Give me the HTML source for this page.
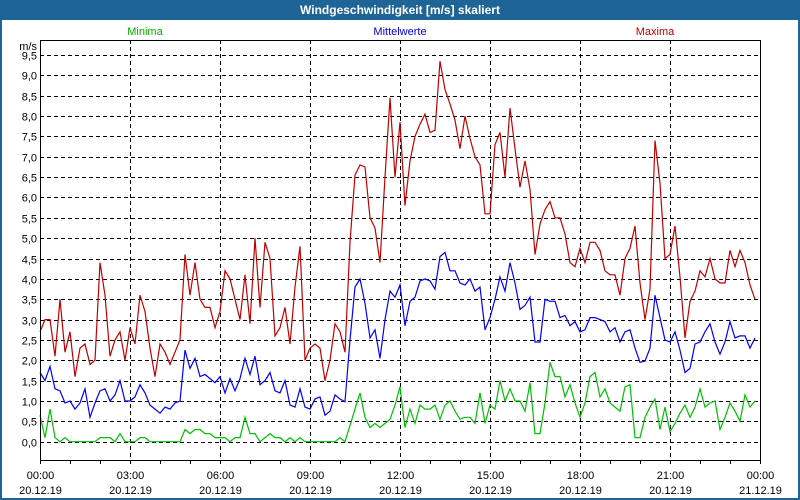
<!DOCTYPE html>
<html><head><meta charset="utf-8"><style>
body{margin:0;background:#fff;}
#wrap{position:relative;width:800px;height:500px;overflow:hidden;}
svg text{font-family:"Liberation Sans","DejaVu Sans",sans-serif;}
</style></head><body>
<div id="wrap">
<svg id="chart" width="800" height="500" xmlns="http://www.w3.org/2000/svg">
<rect x="0" y="0" width="800" height="500" fill="#1e6496"/>
<rect x="2" y="20" width="796" height="478" fill="#fff"/>
<text x="400" y="14" text-anchor="middle" fill="#fff" font-size="12" font-weight="bold">Windgeschwindigkeit [m/s] skaliert</text>
<text x="145" y="35" text-anchor="middle" fill="#00b000" font-size="11">Minima</text>
<text x="400" y="35" text-anchor="middle" fill="#0000e0" font-size="11">Mittelwerte</text>
<text x="655" y="35" text-anchor="middle" fill="#c00000" font-size="11">Maxima</text>
<text x="37" y="50" text-anchor="end" fill="#000" font-size="11">m/s</text>
<g id="grid"></g><g id="series"></g><g id="axes"></g>
</svg></div>
<script>
const yTicks=[0,0.5,1,1.5,2,2.5,3,3.5,4,4.5,5,5.5,6,6.5,7,7.5,8,8.5,9,9.5];
const xTickHours=[0,3,6,9,12,15,18,21,24];
const xTickTimes=["00:00","03:00","06:00","09:00","12:00","15:00","18:00","21:00","00:00"];
const xTickDates=["20.12.19","20.12.19","20.12.19","20.12.19","20.12.19","20.12.19","20.12.19","20.12.19","21.12.19"];
const sampleMinutes=10;
const maxima=[2.7,3.0,3.0,2.1,3.5,2.2,2.7,1.6,2.3,2.4,1.9,2.0,4.4,3.6,2.1,2.5,2.7,2.0,2.8,2.4,3.6,3.2,2.3,1.6,2.4,2.2,1.9,2.2,2.5,4.6,3.6,4.4,3.5,3.3,3.3,2.8,3.2,4.2,4.0,3.5,3.0,4.1,2.9,5.0,3.3,4.9,4.5,2.6,2.8,3.3,2.4,3.8,4.8,2.0,2.3,2.4,2.3,1.5,2.0,2.9,2.7,2.2,4.9,6.55,6.8,6.75,5.5,5.25,4.4,6.5,8.45,6.5,7.85,5.8,6.9,7.5,7.8,8.05,7.6,7.65,9.35,8.65,8.3,7.9,7.2,8.0,7.45,7.0,6.8,5.6,5.6,7.3,7.6,6.5,8.2,7.2,6.25,6.9,6.2,4.6,5.35,5.7,5.9,5.5,5.5,5.1,4.4,4.3,4.75,4.4,4.9,4.9,4.7,4.2,4.1,4.1,3.6,4.5,4.75,5.3,3.9,3.0,3.75,7.4,6.35,4.5,4.6,5.3,4.05,2.55,3.45,3.7,4.2,4.05,4.5,4.0,3.9,3.9,4.7,4.3,4.7,4.4,3.85,3.5];
const mittelwerte=[1.7,1.5,1.85,1.3,1.25,0.95,1.0,0.8,0.95,1.3,0.6,0.95,1.25,1.3,1.0,1.15,1.5,1.0,1.0,1.1,1.4,1.2,0.9,0.8,0.7,0.85,0.8,0.95,1.0,2.25,1.8,2.05,1.6,1.65,1.55,1.45,1.6,1.2,1.55,1.25,1.55,2.05,1.65,2.1,1.4,1.5,1.7,1.25,1.2,1.5,0.9,0.85,1.3,0.85,0.8,1.05,1.1,0.65,0.75,1.15,1.05,0.98,2.5,3.8,4.0,3.4,2.55,2.75,2.05,3.0,3.7,3.55,3.85,2.85,3.45,3.55,3.95,4.0,3.95,3.75,4.55,4.65,4.2,4.2,3.9,3.85,4.0,3.7,3.8,2.75,3.05,3.5,4.05,3.7,4.4,3.9,3.25,3.35,3.55,2.45,2.45,3.5,3.45,3.45,3.05,3.1,2.85,2.95,2.7,2.75,3.05,3.05,3.0,2.95,2.7,2.8,2.45,2.7,2.75,2.3,1.95,1.98,2.3,3.6,3.05,2.5,2.45,2.7,2.25,1.7,1.8,2.4,2.45,2.7,2.9,2.45,2.15,2.45,2.95,2.55,2.6,2.6,2.3,2.55];
const minima=[0.65,0.1,0.8,0.1,0,0.1,0,0,0,0,0,0,0.1,0.1,0.1,0,0.2,0,0,0,0.1,0.1,0,0,0,0,0,0,0,0.3,0.2,0.3,0.3,0.2,0.2,0.1,0.1,0.1,0,0.1,0.1,0.6,0.2,0.2,0,0.1,0.2,0.1,0.1,0,0.1,0,0.1,0,0,0,0,0,0,0,0.1,0,0.4,0.8,1.2,0.6,0.35,0.45,0.35,0.45,0.55,0.9,1.35,0.35,0.8,0.45,0.9,0.8,0.8,0.9,0.55,0.9,1.0,0.75,0.55,0.6,0.6,0.45,1.2,0.45,0.9,0.8,1.5,1.0,1.3,1.0,1.0,0.75,1.45,0.2,0.2,0.95,1.95,1.6,1.6,1.1,1.4,0.95,0.6,0.95,1.6,1.7,1.1,1.3,0.95,0.85,0.75,1.35,1.4,0.1,0.1,0.6,0.85,1.05,0.3,0.85,0.25,0.45,0.7,0.9,0.6,0.85,1.3,0.85,0.95,1.0,0.3,0.6,0.95,0.75,0.5,1.15,0.85,1.0];

const NS="http://www.w3.org/2000/svg";
const L=40,R=760,T=40,B=460;
function xScale(h){return L+(h/24)*(R-L);}
function yScale(v){return 441.7-v*40.7;}
function mk(tag,attrs,parent){const e=document.createElementNS(NS,tag);for(const k in attrs)e.setAttribute(k,attrs[k]);parent.appendChild(e);return e;}
const grid=document.getElementById('grid'),axes=document.getElementById('axes'),ser=document.getElementById('series');
yTicks.forEach(v=>{const y=Math.round(yScale(v))+0.5;
 const g=mk('line',{x1:L,x2:R,y1:y,y2:y,stroke:'#000','stroke-dasharray':'4,3','stroke-width':1},grid);
 
 
 const t=mk('text',{x:37,y:y+4,'text-anchor':'end','font-size':11,fill:'#000'},axes);
 t.textContent=v.toFixed(1).replace('.',',');
 
 
});
for(let h=0;h<=24;h++){const x=Math.round(xScale(h))+0.5;
 const tk=mk('line',{x1:x,x2:x,y1:B,y2:B+4,stroke:'#000'},axes);
 
 }
xTickHours.forEach((h,i)=>{const x=Math.round(xScale(h))+0.5;
 if(h>0&&h<24){const g=mk('line',{x1:x,x2:x,y1:T,y2:B,stroke:'#000','stroke-dasharray':'4,3'},grid);
 
 }
 const t1=mk('text',{x:x,y:479,'text-anchor':'middle','font-size':11,fill:'#000'},axes);t1.textContent=xTickTimes[i];
 
 
 const t2=mk('text',{x:x,y:494,'text-anchor':'middle','font-size':11,fill:'#000'},axes);t2.textContent=xTickDates[i];
 
 
});
const fr=mk('path',{d:`M${L+0.5},${T+0.5}H${R+0.5}V${B+0.5}H${L+0.5}Z`,fill:'none',stroke:'#000'},axes);


function line(data,color,name){const d=data.map((v,i)=>(i?'L':'M')+xScale(i*sampleMinutes/60).toFixed(1)+','+yScale(v).toFixed(1)).join('');
 const p=mk('path',{d:d,fill:'none',stroke:color,'stroke-width':1.2},ser);
 
 }
line(minima,'#00c000','minima-line');
line(mittelwerte,'#0000ff','mittelwerte-line');
line(maxima,'#c00000','maxima-line');
</script>
</body></html>
